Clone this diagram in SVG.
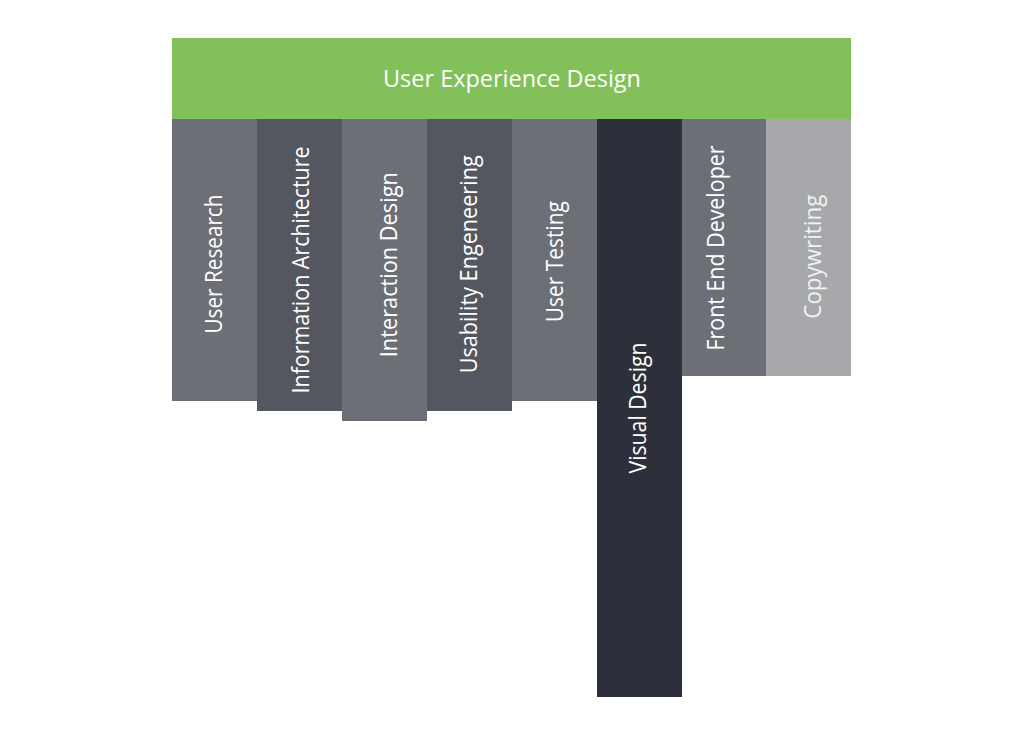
<svg xmlns="http://www.w3.org/2000/svg" width="1024" height="736" viewBox="0 0 1024 736">
<style>
.t{font-family:"Open Sans","Liberation Sans",sans-serif;font-size:24px;fill:#ffffff;text-anchor:middle}
.light{fill:#6d6f77}
.dark{fill:#555760}
.vd{fill:#2d303a}
.cw{fill:#a7a8ac}
</style>
<rect width="1024" height="736" fill="#ffffff"/>
<g id="connectors"></g>
<g id="ux">
<rect x="172" y="38" width="679" height="81" fill="#82c15a"/>
<text class="t" x="512" y="87.3" font-size="25" textLength="258" lengthAdjust="spacingAndGlyphs">User Experience Design</text>
</g>
<g id="user-research">
<rect class="light" x="172" y="119" width="85" height="282"/>
<text class="t" transform="translate(222.3,264) rotate(-90)" textLength="139" lengthAdjust="spacingAndGlyphs">User Research</text>
</g>
<g id="information-architecture">
<rect class="dark" x="257" y="119" width="85" height="292"/>
<text class="t" transform="translate(309.3,270) rotate(-90)" textLength="247" lengthAdjust="spacingAndGlyphs">Information Architecture</text>
</g>
<g id="interaction-design">
<rect class="light" x="342" y="119" width="85" height="302"/>
<text class="t" transform="translate(396.7,264.7) rotate(-90)" textLength="185" lengthAdjust="spacingAndGlyphs">Interaction Design</text>
</g>
<g id="usability-engeneering">
<rect class="dark" x="427" y="119" width="85" height="292"/>
<text class="t" transform="translate(476.7,264.3) rotate(-90)" textLength="218" lengthAdjust="spacingAndGlyphs">Usability Engeneering</text>
</g>
<g id="user-testing">
<rect class="light" x="512" y="119" width="85" height="282"/>
<text class="t" transform="translate(563.3,261.7) rotate(-90)" textLength="121" lengthAdjust="spacingAndGlyphs">User Testing</text>
</g>
<g id="visual-design">
<rect class="vd" x="597" y="119" width="85" height="578"/>
<text class="t" transform="translate(645.7,408) rotate(-90)" textLength="131" lengthAdjust="spacingAndGlyphs">Visual Design</text>
</g>
<g id="front-end-developer">
<rect class="light" x="682" y="119" width="84" height="257"/>
<text class="t" transform="translate(724,248) rotate(-90)" textLength="205" lengthAdjust="spacingAndGlyphs">Front End Developer</text>
</g>
<g id="copywriting">
<rect class="cw" x="766" y="119" width="85" height="257"/>
<text class="t" transform="translate(820.7,256.7) rotate(-90)" textLength="124" lengthAdjust="spacingAndGlyphs" style="fill:#f2f2f2">Copywriting</text>
</g>
</svg>
